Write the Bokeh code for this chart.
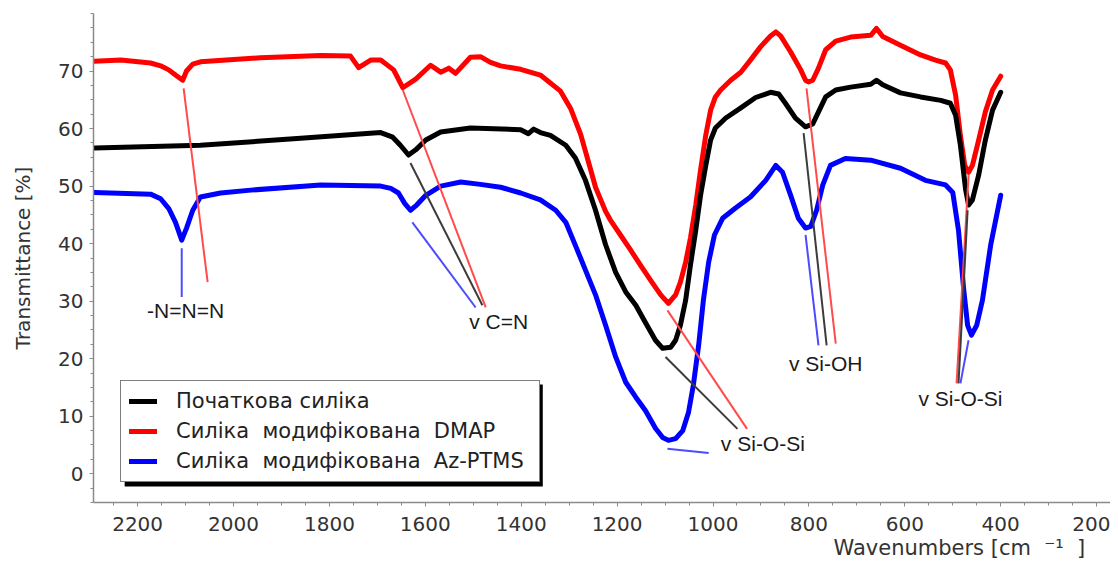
from bokeh.plotting import figure
from bokeh.models import Range1d, FixedTicker, Legend, LegendItem, Title, BoxAnnotation, ColumnDataSource
from bokeh.core.properties import value
from bokeh.embed import file_html
from bokeh.resources import INLINE

# ---------------- data ----------------
series_names = ["Початкова силіка", "Силіка  модифікована  DMAP", "Силіка  модифікована  Az-PTMS"]

red_w = [2290, 2235, 2173, 2152, 2135, 2121, 2106, 2098, 2085, 2069, 1944, 1818, 1756, 1739,
         1714, 1693, 1666, 1647, 1620, 1589, 1568, 1551, 1537, 1506, 1485, 1464, 1443, 1401,
         1360, 1318, 1297, 1276, 1255, 1245, 1234, 1224, 1214, 1193, 1172, 1151, 1130, 1109,
         1093, 1078, 1068, 1057, 1047, 1036, 1026, 1015, 1005, 995, 984, 963, 942, 922, 901,
         880, 869, 859, 838, 817, 807, 801, 792, 780, 765, 744, 713, 671, 659, 646, 609, 567,
         536, 515, 505, 494, 484, 475, 467, 459, 446, 432, 417, 400]
red_t = [71.7, 71.9, 71.4, 70.9, 70.2, 69.3, 68.4, 70.0, 71.2, 71.6, 72.3, 72.7, 72.6, 70.6,
         71.9, 71.9, 70.2, 67.1, 68.6, 71.0, 69.8, 70.5, 69.6, 72.4, 72.5, 71.5, 70.9, 70.3,
         69.3, 66.5, 63.5, 59.0, 52.8, 49.8, 47.6, 45.6, 44.1, 41.5, 38.9, 36.2, 33.6, 31.1,
         29.6, 31.1, 33.3, 36.8, 41.0, 46.7, 52.8, 58.9, 63.2, 65.5, 66.7, 68.4, 69.8, 71.9,
         74.2, 76.1, 76.8, 76.1, 73.3, 70.2, 68.4, 68.1, 68.4, 70.5, 73.7, 75.2, 75.9, 76.2,
         77.4, 76.0, 74.5, 72.8, 71.9, 71.4, 70.2, 65.8, 58.8, 53.6, 52.4, 53.6, 58.0, 62.9,
         66.7, 69.1]

black_w = [2290, 2069, 1860, 1693, 1668, 1652, 1635, 1620, 1599, 1568, 1506, 1401, 1385, 1374,
           1360, 1339, 1307, 1287, 1266, 1245, 1224, 1203, 1182, 1161, 1141, 1120, 1105, 1088,
           1078, 1068, 1057, 1047, 1036, 1026, 1015, 1005, 995, 974, 942, 911, 880, 863, 849,
           828, 807, 792, 780, 765, 744, 713, 671, 659, 646, 609, 567, 525, 505, 494, 484, 473,
           467, 459, 446, 432, 417, 400]
black_t = [56.6, 57.1, 58.3, 59.3, 58.5, 57.1, 55.4, 56.3, 58.0, 59.4, 60.1, 59.8, 59.1, 59.9,
           59.3, 58.8, 57.1, 54.9, 51.0, 45.8, 39.8, 35.0, 31.6, 29.3, 26.3, 23.2, 21.8, 22.0,
           23.2, 25.8, 30.2, 36.3, 42.3, 48.4, 53.6, 58.0, 60.1, 61.8, 63.6, 65.4, 66.3, 66.0,
           64.4, 61.8, 60.3, 60.8, 62.9, 65.5, 66.7, 67.2, 67.7, 68.4, 67.6, 66.2, 65.5, 64.9,
           64.4, 62.3, 57.1, 49.3, 46.7, 47.6, 51.9, 58.0, 63.2, 66.3]

blue_w = [2290, 2173, 2152, 2135, 2121, 2108, 2098, 2085, 2069, 2027, 1964, 1818, 1693, 1672,
          1656, 1643, 1631, 1618, 1599, 1568, 1526, 1485, 1443, 1401, 1360, 1328, 1307, 1287,
          1266, 1245, 1224, 1203, 1182, 1161, 1141, 1120, 1105, 1093, 1078, 1063, 1051, 1041,
          1030, 1020, 1009, 997, 980, 953, 922, 890, 869, 855, 838, 822, 807, 796, 784, 771,
          755, 724, 671, 609, 557, 515, 500, 488, 477, 469, 461, 450, 438, 421, 400]
blue_t = [48.9, 48.6, 47.8, 46.1, 43.7, 40.6, 42.7, 45.8, 48.1, 48.8, 49.3, 50.2, 50.0, 49.6,
          48.8, 47.0, 45.8, 46.7, 48.4, 50.0, 50.7, 50.3, 49.8, 48.8, 47.6, 45.8, 43.7, 39.7,
          35.4, 31.1, 25.8, 20.3, 15.9, 13.3, 11.0, 7.9, 6.3, 5.8, 6.1, 7.5, 10.7, 15.4, 22.3,
          30.2, 36.8, 41.5, 44.4, 46.2, 48.1, 51.0, 53.6, 52.4, 48.4, 44.4, 42.7, 43.0, 45.8,
          50.2, 53.6, 54.8, 54.5, 53.1, 51.0, 50.2, 48.9, 42.3, 31.9, 25.8, 24.1, 25.8, 30.2,
          39.7, 48.4]

# band-assignment leader lines (wavenumber, transmittance end points)
ann_red_w0 = [2104, 1647, 1095, 805, 467]
ann_red_t0 = [67.0, 66.7, 28.4, 67.0, 51.9]
ann_red_w1 = [2054, 1474, 929, 744, 492]
ann_red_t1 = [33.3, 28.9, 7.8, 22.6, 15.7]
ann_black_w0 = [1631, 1099, 811, 469]
ann_black_t0 = [54.0, 20.3, 59.2, 45.8]
ann_black_w1 = [1481, 949, 763, 488]
ann_black_t1 = [29.3, 7.8, 22.3, 15.7]
ann_blue_w0 = [2108, 1627, 1095, 807, 467]
ann_blue_t0 = [39.2, 43.7, 4.35, 41.5, 23.2]
ann_blue_w1 = [2108, 1495, 1009, 780, 484]
ann_blue_t1 = [30.7, 28.9, 3.6, 22.3, 15.7]

band_labels = ["-N=N=N", "v C=N", "v Si-O-Si", "v Si-OH", "v Si-O-Si"]
band_w = [2100, 1447, 896, 765, 484]
band_t = [28.4, 26.4, 5.3, 19.1, 13.0]

x_ticks = [2200, 2000, 1800, 1600, 1400, 1200, 1000, 800, 600, 400, 200]
y_ticks = [0, 10, 20, 30, 40, 50, 60, 70]

# ---------------- figure ----------------
p = figure(width=1110, height=561, output_backend="svg", toolbar_location=None,
           x_range=Range1d(2292, 171), y_range=Range1d(-5, 80),
           min_border_left=93, min_border_right=0, min_border_top=13, min_border_bottom=59)
p.outline_line_color = None
p.grid.visible = False
p.background_fill_color = "white"
p.border_fill_color = "white"

minor_x = [2250 - 50 * i for i in range(42)]
minor_y = [-5 + 2.5 * i for i in range(35)]
p.xaxis.ticker = FixedTicker(ticks=x_ticks, minor_ticks=minor_x)
p.yaxis.ticker = FixedTicker(ticks=y_ticks, minor_ticks=minor_y)

for ax in (p.xaxis[0], p.yaxis[0]):
    ax.axis_line_color = "#8a8a8a"
    ax.axis_line_width = 1.5
    ax.major_tick_line_color = "#8a8a8a"
    ax.minor_tick_line_color = "#8a8a8a"
    ax.major_tick_in = 0
    ax.major_tick_out = 4
    ax.minor_tick_in = 0
    ax.minor_tick_out = 3
    ax.major_label_text_font = "DejaVu Sans"
    ax.major_label_text_font_size = "20px"
    ax.major_label_text_color = "#333333"
    ax.axis_label_text_font = "DejaVu Sans"
    ax.axis_label_text_font_size = "20px"
    ax.axis_label_text_font_style = "normal"
    ax.axis_label_text_color = "#333333"

p.yaxis.axis_label = "Transmittance [%]"
p.yaxis.axis_label_standoff = 20
p.yaxis.major_label_standoff = 6
p.xaxis.major_label_standoff = 10

# x axis label, placed at the right end
xt = Title(text="Wavenumbers [cm\u00a0\u00a0\u207b\u00b9\u00a0\u00a0]", align="left", offset=740,
           text_font="DejaVu Sans", text_font_size="21px", text_font_style="normal",
           text_color="#333333", standoff=0)
p.add_layout(xt, "below")

# curves
r_red = p.line(red_w, red_t, line_color="#ff0000", line_width=5, line_join="round", line_cap="round")
r_black = p.line(black_w, black_t, line_color="#000000", line_width=5, line_join="round", line_cap="round")
r_blue = p.line(blue_w, blue_t, line_color="#0000ff", line_width=5, line_join="round", line_cap="round")

# leader lines
p.segment(ann_red_w0, ann_red_t0, ann_red_w1, ann_red_t1, line_color="#ff4b4b", line_width=2)
p.segment(ann_black_w0, ann_black_t0, ann_black_w1, ann_black_t1, line_color="#3c3c3c", line_width=2)
p.segment(ann_blue_w0, ann_blue_t0, ann_blue_w1, ann_blue_t1, line_color="#4b4bff", line_width=2)

src = ColumnDataSource(dict(w=band_w, t=band_t, s=band_labels))
p.text(x="w", y="t", text="s", source=src, text_align="center", text_baseline="middle",
       text_font=value("Liberation Sans"), text_font_size="21px", text_color="#1a1a1a")

# legend with shadow
shadow = BoxAnnotation(left=2227, right=1355, top=15.5, bottom=-2.2, fill_color="black",
                       fill_alpha=1.0, line_color=None)
p.add_layout(shadow)
legend = Legend(items=[LegendItem(label=series_names[0], renderers=[r_black]),
                       LegendItem(label=series_names[1], renderers=[r_red]),
                       LegendItem(label=series_names[2], renderers=[r_blue])],
                location=(27, 20), orientation="vertical")
legend.border_line_color = "black"
legend.border_line_width = 1.5
legend.background_fill_color = "white"
legend.background_fill_alpha = 1.0
legend.padding = 8
legend.margin = 0
legend.spacing = 6
legend.glyph_width = 28
legend.glyph_height = 24
legend.label_height = 24
legend.label_width = 355
legend.label_standoff = 19
legend.label_text_font = "DejaVu Sans"
legend.label_text_font_size = "21px"
legend.label_text_color = "#222222"
p.add_layout(legend)

open("out.html", "w").write(file_html(p, INLINE))
